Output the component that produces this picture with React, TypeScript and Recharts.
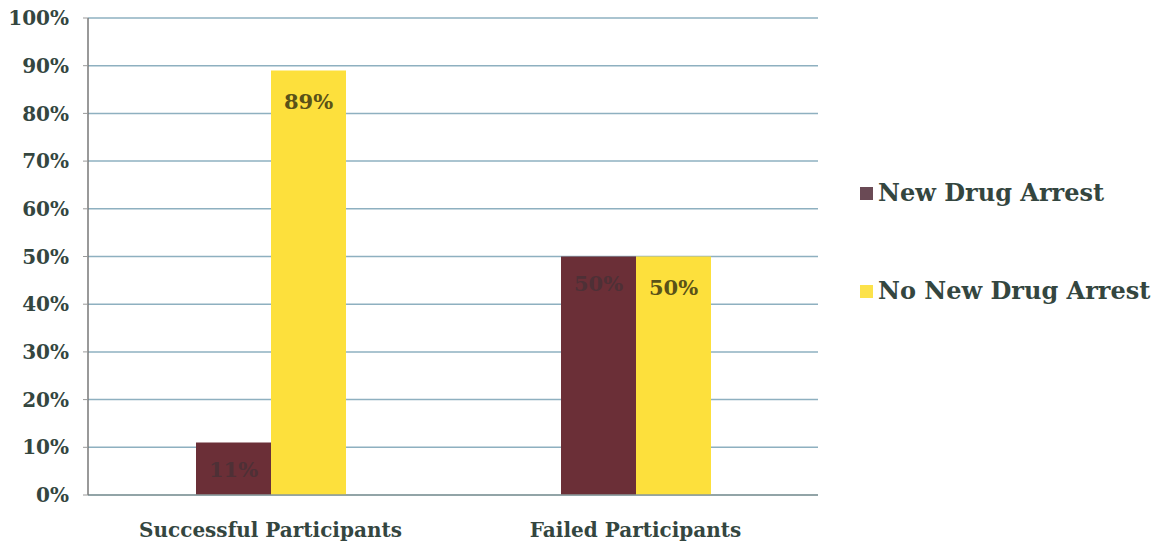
import React from 'react';
import { BarChart, Bar, XAxis, YAxis, CartesianGrid, LabelList } from 'recharts';

const categories = ['Successful Participants', 'Failed Participants'];
const newDrugArrest = [11, 50];
const noNewDrugArrest = [89, 50];
const yTicks = [0, 10, 20, 30, 40, 50, 60, 70, 80, 90, 100];
const seriesNames = ['New Drug Arrest', 'No New Drug Arrest'];
const seriesColors = ['#6b2f37', '#fde03c'];

const data = categories.map((c, i) => ({
  name: c,
  arrest: newDrugArrest[i],
  noArrest: noNewDrugArrest[i],
}));

const FONT = '"DejaVu Serif", "Liberation Serif", serif';
const TEXT = '#34463f';

export default function App() {
  return (
    <div style={{ position: 'absolute', left: 0, top: 0, width: 1160, height: 544, background: '#fff' }}>
      <BarChart
        width={1160}
        height={544}
        data={data}
        margin={{ top: 18, right: 342, bottom: 0, left: 0 }}
        barGap={0}
        barSize={75}
      >
        <CartesianGrid vertical={false} stroke="#8eb0c0" strokeWidth={1.5} />
        <XAxis
          dataKey="name"
          height={49}
          interval={0}
          axisLine={{ stroke: '#8a9a9a', strokeWidth: 1.5 }}
          tickLine={false}
          tickMargin={22}
          tick={{ fontFamily: FONT, fontWeight: 'bold', fontSize: 20, fill: TEXT }}
        />
        <YAxis
          width={88}
          domain={[0, 100]}
          ticks={yTicks}
          interval={0}
          tickFormatter={(v) => `${v}%`}
          axisLine={{ stroke: '#777', strokeWidth: 1.5 }}
          tickLine={{ stroke: '#999' }}
          tickSize={5}
          tickMargin={14}
          tick={{ fontFamily: FONT, fontWeight: 'bold', fontSize: 20, fill: TEXT }}
        />
        <Bar dataKey="arrest" name={seriesNames[0]} fill={seriesColors[0]} isAnimationActive={false}>
          <LabelList
            dataKey="arrest"
            position="insideTop"
            offset={20}
            formatter={(v) => `${v}%`}
            style={{ fontFamily: FONT, fontWeight: 'bold', fontSize: 21, fill: '#4e3036' }}
          />
        </Bar>
        <Bar dataKey="noArrest" name={seriesNames[1]} fill={seriesColors[1]} isAnimationActive={false}>
          <LabelList
            dataKey="noArrest"
            position="insideTop"
            offset={24}
            formatter={(v) => `${v}%`}
            style={{ fontFamily: FONT, fontWeight: 'bold', fontSize: 21, fill: '#5a5218' }}
          />
        </Bar>
      </BarChart>
      <div
        style={{
          position: 'absolute',
          left: 860,
          top: 177,
          fontFamily: FONT,
          fontWeight: 'bold',
          fontSize: 24,
          color: TEXT,
          lineHeight: '32px',
        }}
      >
        <div style={{ display: 'flex', alignItems: 'center', marginBottom: 66 }}>
          <span style={{ width: 13, height: 13, background: '#6a4a55', display: 'inline-block', marginRight: 5 }} />
          <span>{seriesNames[0]}</span>
        </div>
        <div style={{ display: 'flex', alignItems: 'center' }}>
          <span style={{ width: 13, height: 13, background: '#fce24a', display: 'inline-block', marginRight: 5 }} />
          <span>{seriesNames[1]}</span>
        </div>
      </div>
    </div>
  );
}
